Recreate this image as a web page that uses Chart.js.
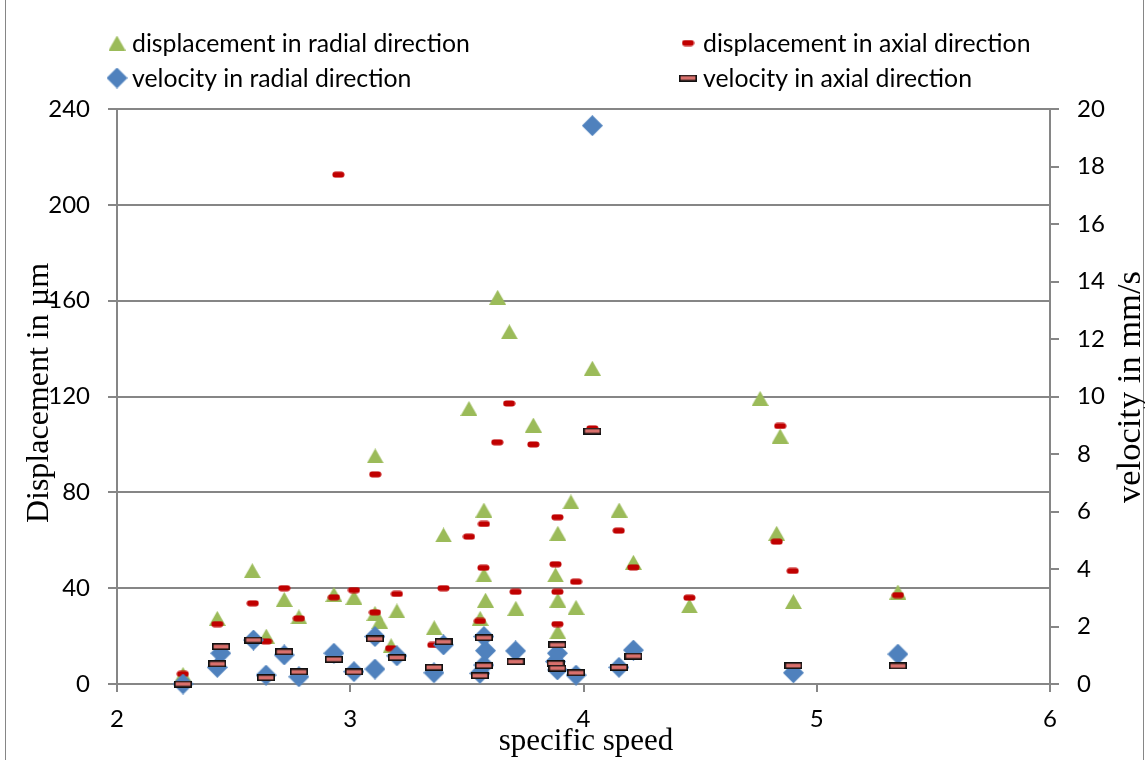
<!DOCTYPE html>
<html>
<head>
<meta charset="utf-8">
<script src="https://cdn.jsdelivr.net/npm/chart.js@4.4.1/dist/chart.umd.min.js"></script>
<style>
    html, body { margin: 0; padding: 0; background: #ffffff; }
    #wrap { position: relative; width: 1145px; height: 760px; }
</style>
</head>
<body>
<div id="wrap"><canvas id="SpeedChart" width="1145" height="760"></canvas></div>
<script>
// specific speed (x) and values
const radialDispX = [2.283, 2.43, 2.58, 2.64, 2.717, 2.78, 2.93, 3.016, 3.107, 3.106, 3.127, 3.175, 3.20, 3.36, 3.40, 3.509, 3.557, 3.573, 3.573, 3.58, 3.632, 3.682, 3.71, 3.785, 3.88, 3.89, 3.89, 3.89, 3.946, 3.968, 4.038, 4.153, 4.214, 4.454, 4.757, 4.828, 4.843, 4.90, 5.348];
const radialDispY = [4, 27.4, 47.3, 20, 35.3, 28, 37.4, 36.2, 95.2, 29.5, 26, 16, 30.5, 23.5, 62.2, 115, 27.4, 72.6, 45.5, 35, 161.4, 147, 31.6, 108.1, 45.5, 62.9, 35, 21.8, 76, 32, 131.8, 72.6, 50.8, 32.6, 119.2, 62.9, 103.5, 34.4, 38.4];

const axialDispX = [2.282, 2.43, 2.582, 2.639, 2.717, 2.78, 2.93, 2.949, 3.016, 3.107, 3.106, 3.175, 3.20, 3.356, 3.40, 3.509, 3.556, 3.573, 3.571, 3.63, 3.681, 3.709, 3.785, 3.888, 3.88, 3.888, 3.888, 3.968, 4.038, 4.151, 4.214, 4.454, 4.828, 4.843, 4.897, 5.348];
const axialDispY = [4.2, 25, 33.7, 17.8, 40, 27.4, 36.2, 212.6, 39.2, 87.5, 29.9, 14.9, 37.6, 16.3, 40, 61.5, 26.3, 66.8, 48.5, 100.9, 117.1, 38.5, 100, 69.6, 50, 38.5, 25, 42.7, 106.7, 64, 48.7, 36, 59.4, 107.7, 47.2, 37.1];

const radialVelX = [2.283, 2.43, 2.445, 2.585, 2.639, 2.717, 2.78, 2.93, 3.016, 3.106, 3.106, 3.20, 3.359, 3.40, 3.556, 3.573, 3.573, 3.58, 3.709, 3.88, 3.888, 3.888, 3.968, 4.038, 4.152, 4.214, 4.90, 5.348];
const radialVelY = [0, 0.58, 1.07, 1.53, 0.31, 1.01, 0.25, 1.07, 0.43, 0.52, 1.65, 0.98, 0.39, 1.36, 0.37, 0.66, 1.65, 1.16, 1.15, 0.78, 1.07, 0.49, 0.31, 19.42, 0.58, 1.18, 0.39, 1.04];

const axialVelX = [2.283, 2.43, 2.446, 2.585, 2.639, 2.717, 2.78, 2.93, 3.016, 3.106, 3.20, 3.359, 3.40, 3.556, 3.573, 3.573, 3.709, 3.88, 3.888, 3.888, 3.968, 4.038, 4.152, 4.214, 4.90, 5.348];
const axialVelY = [0, 0.70, 1.30, 1.53, 0.22, 1.12, 0.42, 0.86, 0.42, 1.57, 0.92, 0.58, 1.47, 0.29, 0.64, 1.61, 0.78, 0.71, 1.36, 0.55, 0.39, 8.80, 0.58, 0.97, 0.64, 0.63];

const seriesNames = [
    "displacement in radial direction",
    "displacement in axial direction",
    "velocity in radial direction",
    "velocity in axial direction"
];
const xTitle = "specific speed";
const yTitle = "Displacement in \u00b5m";
const y2Title = "velocity in mm/s";

function toPoints(xs, ys) {
    return xs.map(function (x, i) { return { x: x, y: ys[i] }; });
}

// marker images
function makeMarker(w, h, draw) {
    var c = document.createElement("canvas");
    c.width = w;
    c.height = h;
    draw(c.getContext("2d"), w, h);
    return c;
}
const triangleMark = makeMarker(17, 15, function (g, w, h) {
    g.fillStyle = "#9BBB59";
    g.beginPath();
    g.moveTo(w / 2, 0);
    g.lineTo(w, h);
    g.lineTo(0, h);
    g.closePath();
    g.fill();
});
const dashMark = makeMarker(13, 7, function (g, w, h) {
    g.fillStyle = "#C00000";
    g.beginPath();
    g.roundRect(0.5, 0.5, w - 1, h - 1, 3);
    g.fill();
});
const diamondMark = makeMarker(21, 21, function (g, w, h) {
    g.fillStyle = "#4F81BD";
    g.beginPath();
    g.moveTo(w / 2, 0);
    g.lineTo(w, h / 2);
    g.lineTo(w / 2, h);
    g.lineTo(0, h / 2);
    g.closePath();
    g.fill();
});
const barMark = makeMarker(18, 7, function (g, w, h) {
    g.fillStyle = "#D9706C";
    g.fillRect(1, 1, w - 2, h - 2);
    g.strokeStyle = "#111111";
    g.lineWidth = 1.6;
    g.strokeRect(0.8, 0.8, w - 1.6, h - 1.6);
});
const markers = [triangleMark, dashMark, diamondMark, barMark];

const gridGrey = "#868686";
const tickFont = { family: "Lato", size: 24 };

// legend, axis titles and frame
const decorPlugin = {
    id: "decor",
    afterDraw: function (chart) {
        var ctx = chart.ctx;
        ctx.save();
        ctx.strokeStyle = gridGrey;
        ctx.lineWidth = 1;
        ctx.beginPath();
        ctx.moveTo(5.5, 0);
        ctx.lineTo(5.5, 760);
        ctx.moveTo(1143.5, 0);
        ctx.lineTo(1143.5, 760);
        ctx.stroke();

        // legend 2 x 2
        var spots = [[117, 43], [688, 43], [117, 78], [688, 78]];
        ctx.font = "24.8px Lato";
        ctx.fillStyle = "#000000";
        ctx.textBaseline = "middle";
        ctx.textAlign = "left";
        for (var i = 0; i < 4; i++) {
            var m = markers[i];
            ctx.drawImage(m, spots[i][0] - m.width / 2, spots[i][1] - m.height / 2);
            ctx.fillText(seriesNames[i], spots[i][0] + 15, spots[i][1] + 1);
        }

        // axis titles
        ctx.font = "32px 'Liberation Serif'";
        ctx.textBaseline = "alphabetic";
        ctx.textAlign = "center";
        ctx.save();
        ctx.translate(48, 393);
        ctx.rotate(-Math.PI / 2);
        ctx.fillText(yTitle, 0, 0);
        ctx.restore();
        ctx.font = "34.5px 'Liberation Serif'";
        ctx.save();
        ctx.translate(1140, 387);
        ctx.rotate(-Math.PI / 2);
        ctx.fillText(y2Title, 0, 0);
        ctx.restore();
        ctx.font = "31px 'Liberation Serif'";
        ctx.fillText(xTitle, 586, 750);
        ctx.restore();
    }
};

document.addEventListener("DOMContentLoaded", function () {
    const speedCanvas = document.getElementById("SpeedChart");
    var speedChart = new Chart(speedCanvas, {
        type: "scatter",
        data: {
            datasets: [
                {
                    label: seriesNames[0],
                    data: toPoints(radialDispX, radialDispY),
                    pointStyle: triangleMark,
                    yAxisID: "y",
                    order: 4
                }, {
                    label: seriesNames[1],
                    data: toPoints(axialDispX, axialDispY),
                    pointStyle: dashMark,
                    yAxisID: "y",
                    order: 3
                }, {
                    label: seriesNames[2],
                    data: toPoints(radialVelX, radialVelY),
                    pointStyle: diamondMark,
                    yAxisID: "y2",
                    order: 2
                }, {
                    label: seriesNames[3],
                    data: toPoints(axialVelX, axialVelY),
                    pointStyle: barMark,
                    yAxisID: "y2",
                    order: 1
                }
            ]
        },
        options: {
            responsive: false,
            animation: false,
            clip: false,
            layout: { padding: { top: 109, left: 0, right: 0, bottom: 0 } },
            plugins: {
                legend: { display: false },
                tooltip: { enabled: false }
            },
            scales: {
                x: {
                    type: "linear",
                    min: 2,
                    max: 6,
                    ticks: { stepSize: 1, padding: 13, color: "#000000", font: tickFont },
                    grid: { drawOnChartArea: false, tickLength: 8, color: gridGrey, lineWidth: 2 },
                    border: { color: gridGrey, width: 2 },
                    afterFit: function (scale) { scale.height = 76; }
                },
                y: {
                    position: "left",
                    min: 0,
                    max: 240,
                    ticks: { stepSize: 40, padding: 18, color: "#000000", font: tickFont },
                    grid: { color: gridGrey, lineWidth: 2, tickLength: 9 },
                    border: { color: gridGrey, width: 2 },
                    afterFit: function (scale) { scale.width = 117; }
                },
                y2: {
                    position: "right",
                    min: 0,
                    max: 20,
                    ticks: { stepSize: 2, padding: 18, color: "#000000", font: tickFont },
                    grid: { drawOnChartArea: false, color: gridGrey, lineWidth: 2, tickLength: 9 },
                    border: { color: gridGrey, width: 2 },
                    afterFit: function (scale) { scale.width = 95; }
                }
            }
        },
        plugins: [decorPlugin]
    });
});
</script>
</body>
</html>
